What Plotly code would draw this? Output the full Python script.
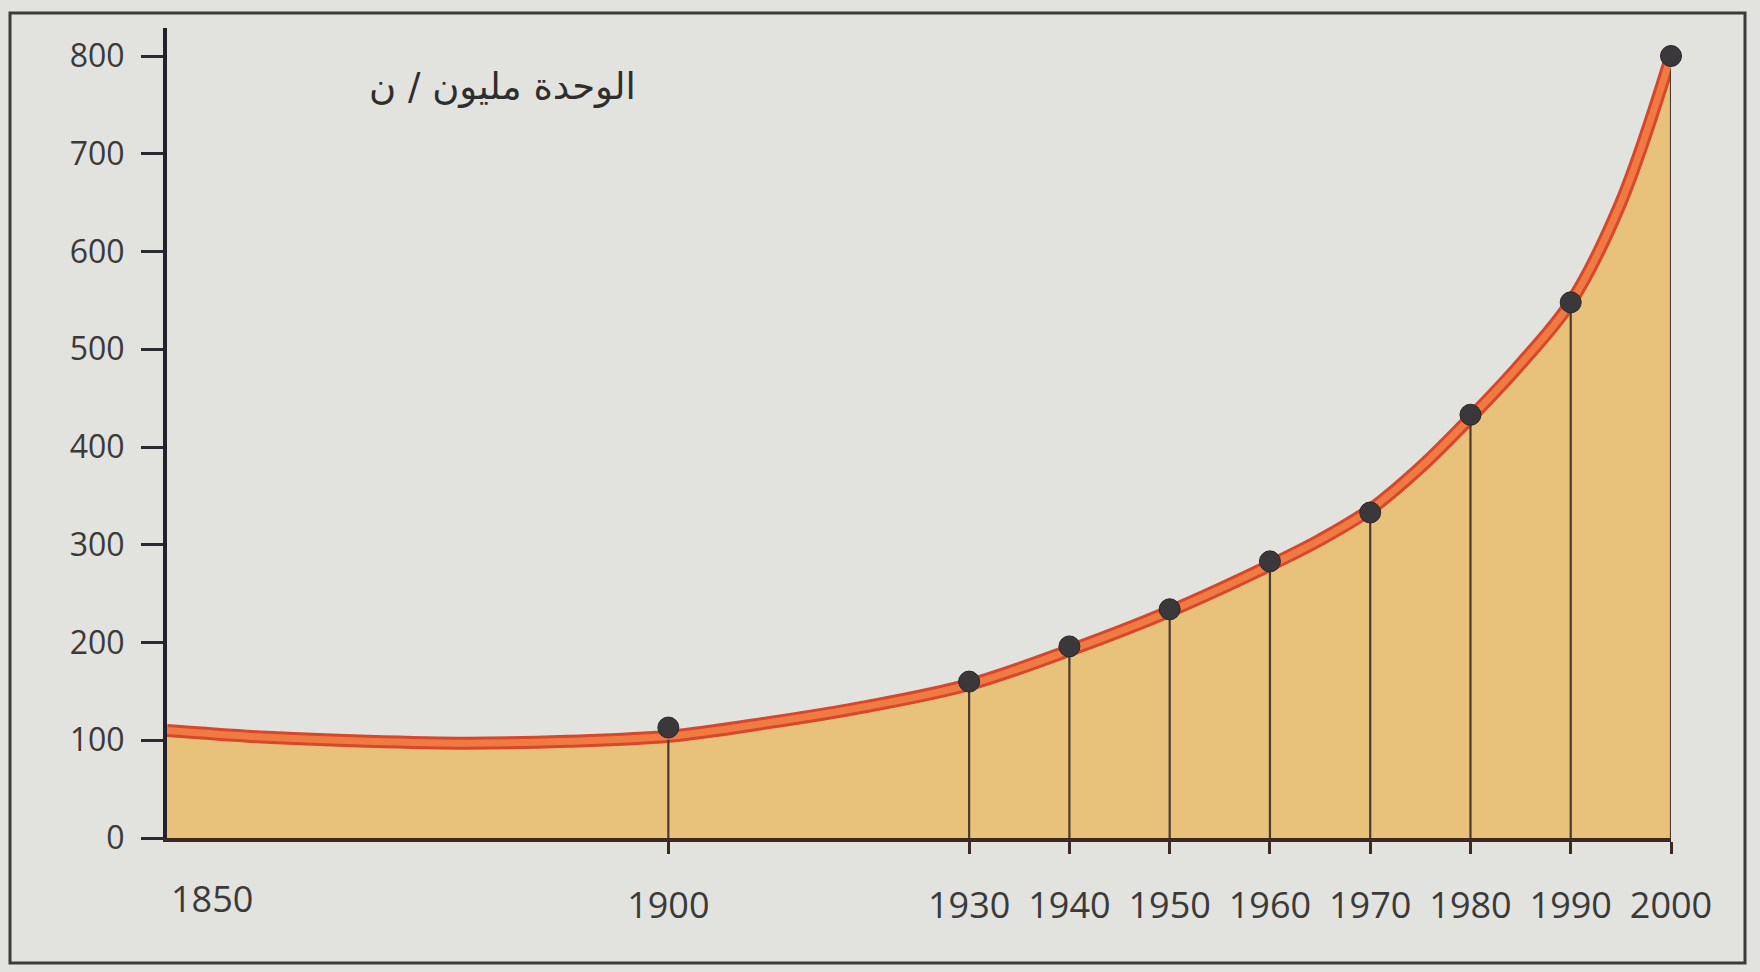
import plotly.graph_objects as go

# Smooth trend curve (years, million tonnes)
curve_years = [1850, 1860, 1870, 1880, 1890, 1900, 1910, 1920, 1930, 1940, 1950,
               1960, 1965, 1970, 1975, 1980, 1985, 1990, 1995, 2000]
curve_values = [110, 103, 99, 97, 99, 104, 118, 135, 157, 192, 232,
                279, 305, 336, 379, 430, 485, 548, 650, 800]

# Marked observations
point_years = [1900, 1930, 1940, 1950, 1960, 1970, 1980, 1990, 2000]
point_values = [113, 160, 196, 234, 283, 333, 433, 548, 800]

y_ticks = [0, 100, 200, 300, 400, 500, 600, 700, 800]
x_tick_labels = ["1900", "1930", "1940", "1950", "1960", "1970", "1980", "1990", "2000"]
first_year_label = "1850"
unit_label = "الوحدة مليون / ن"

W, H = 1760, 972
ML, MR, MT, MB = 167, 89, 28, 134
PW, PH = W - ML - MR, H - MT - MB

BG = "#e2e2df"
FILL = "#e8c27b"
DOT = "#3b383b"
INK = "#3a3a3a"

fig = go.Figure()

# filled area under the curve (darker outer edge of the curve band)
fig.add_trace(go.Scatter(
    x=curve_years, y=curve_values, mode="lines",
    line=dict(shape="spline", smoothing=1.0, color="#d6472b", width=13),
    fill="tozeroy", fillcolor=FILL, hoverinfo="skip", showlegend=False,
))

# vertical drop lines from each observation to the baseline
drop_x, drop_y = [], []
for yr, v in zip(point_years, point_values):
    drop_x += [yr, yr, None]
    drop_y += [0, v, None]
fig.add_trace(go.Scatter(
    x=drop_x, y=drop_y, mode="lines",
    line=dict(color="#4a3a30", width=2.2),
    hoverinfo="skip", showlegend=False,
))

# lighter core of the curve
fig.add_trace(go.Scatter(
    x=curve_years, y=curve_values, mode="lines",
    line=dict(shape="spline", smoothing=1.0, color="#f07a42", width=7),
    hoverinfo="skip", showlegend=False,
))

# observation markers
fig.add_trace(go.Scatter(
    x=point_years, y=point_values, mode="markers",
    marker=dict(size=21, color=DOT, line=dict(color="#2a2628", width=1)),
    cliponaxis=False, showlegend=False,
))

fig.update_xaxes(
    range=[1850, 2000],
    tickmode="array", tickvals=point_years, ticktext=x_tick_labels,
    ticks="outside", ticklen=12, tickwidth=3, tickcolor="#3a2a22",
    showline=True, linecolor="#3a2a22", linewidth=4,
    showgrid=False, zeroline=False,
    tickfont=dict(family="Open Sans", size=36, color=INK),
    ticklabelstandoff=21,
)
fig.update_yaxes(
    range=[0, (H - MB - MT) / 0.9775],
    tickmode="array", tickvals=y_ticks,
    ticks="outside", ticklen=22, tickwidth=3, tickcolor="#2a2a33",
    showline=True, linecolor="#22222c", linewidth=4,
    showgrid=False, zeroline=False,
    tickfont=dict(family="Open Sans", size=32, color=INK),
    ticklabelstandoff=10,
)

# first year label sits to the right of the corner
fig.add_annotation(
    x=1850, y=0, xref="x", yref="y", text=first_year_label, showarrow=False,
    xanchor="left", yanchor="middle", xshift=2, yshift=-60,
    font=dict(family="Open Sans", size=36, color=INK),
)

# unit note
fig.add_annotation(
    x=(502 - ML) / PW, y=(H - MB - 86) / PH, xref="paper", yref="paper",
    text=unit_label, showarrow=False, xanchor="center", yanchor="middle",
    font=dict(family="DejaVu Sans", size=37, color="#2e2e2e"),
)

# outer frame
fig.add_shape(
    type="rect", xref="paper", yref="paper", layer="below",
    x0=(10 - ML) / PW, x1=(1745 - ML) / PW,
    y0=(H - MB - 963) / PH, y1=(H - MB - 13) / PH,
    line=dict(color="#3b3b3b", width=3), fillcolor="rgba(0,0,0,0)",
)

fig.update_layout(
    width=W, height=H,
    margin=dict(l=ML, r=MR, t=MT, b=MB),
    paper_bgcolor=BG, plot_bgcolor=BG,
    showlegend=False,
)

fig.write_html("out.html", config={"displayModeBar": False})
